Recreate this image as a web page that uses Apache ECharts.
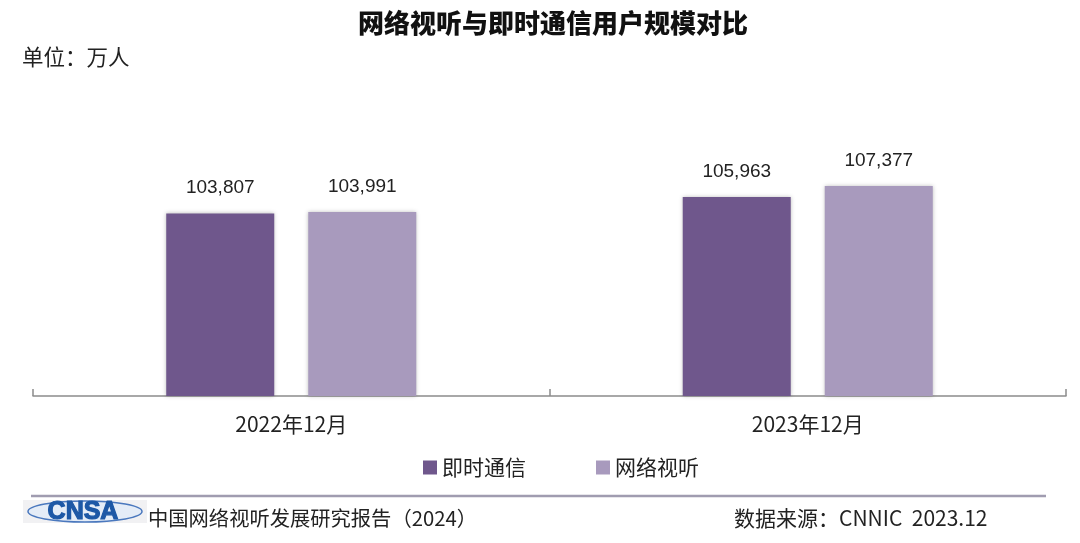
<!DOCTYPE html>
<html>
<head>
<meta charset="utf-8">
<script src="https://cdn.jsdelivr.net/npm/echarts@6/dist/echarts.min.js"></script>
<style>html,body{margin:0;padding:0;background:#fff;}#c{width:1080px;height:543px;}</style>
</head>
<body>
<div id="c"></div>
<script>
const categories = ['2022年12月', '2023年12月'];
const seriesNames = ['即时通信', '网络视听'];
const imValues = [103807, 105963];
const avValues = [103991, 107377];
const titleText = '网络视听与即时通信用户规模对比';
const unitText = '单位：万人';
const footerLeft = '中国网络视听发展研究报告（2024）';
const footerRight = '数据来源：CNNIC  2023.12';

const cjk = '"Noto Sans CJK SC", "Noto Sans", sans-serif';
const latin = '"Liberation Sans", Arial, sans-serif';
const chart = echarts.init(document.getElementById('c'), null, {renderer: 'canvas'});
const fmt = p => p.value.toLocaleString('en-US');
const labelStyle = {show: true, position: 'top', distance: 16, fontSize: 19, color: '#222', fontFamily: latin, formatter: fmt};
const shadow = {shadowBlur: 4, shadowColor: 'rgba(0,0,0,0.25)', shadowOffsetX: 0, shadowOffsetY: 0};

chart.setOption({
  animation: false,
  backgroundColor: '#fff',
  grid: {left: 33, right: 14, top: 166, bottom: 147, containLabel: false},
  legend: {
    data: seriesNames, left: 418, top: 452, itemWidth: 14, itemHeight: 14, itemGap: 70,
    icon: 'rect', textStyle: {fontSize: 21, color: '#222', fontFamily: cjk}
  },
  xAxis: {
    type: 'category', data: categories,
    axisLine: {lineStyle: {color: '#8c8c8c', width: 1.5}},
    axisTick: {show: true, inside: true, length: 7, lineStyle: {color: '#8c8c8c', width: 1.5}},
    axisLabel: {fontSize: 21, color: '#222', margin: 18, fontFamily: cjk}
  },
  yAxis: {type: 'value', min: 80000, max: 110000, show: false, splitLine: {show: false}},
  series: [
    {name: seriesNames[0], type: 'bar', data: imValues, barWidth: 108, barGap: '31.5%',
     itemStyle: Object.assign({color: '#6f578c'}, shadow), label: labelStyle},
    {name: seriesNames[1], type: 'bar', data: avValues, barWidth: 108,
     itemStyle: Object.assign({color: '#a89abd'}, shadow), label: labelStyle}
  ],
  graphic: [
    {type: 'text', x: 553, y: 23, style: {text: titleText, textAlign: 'center', textVerticalAlign: 'middle',
      font: '900 26px ' + cjk, fill: '#111'}},
    {type: 'text', x: 22, y: 57, style: {text: unitText, textAlign: 'left', textVerticalAlign: 'middle',
      font: '21.5px ' + cjk, fill: '#222'}},
    {type: 'line', shape: {x1: 31, y1: 496, x2: 1046, y2: 496}, style: {stroke: '#a09cb0', lineWidth: 2.5}},
    {type: 'rect', shape: {x: 23, y: 500, width: 124, height: 23}, style: {fill: '#f1f1f3'}},
    {type: 'ellipse', shape: {cx: 85, cy: 511.5, rx: 57, ry: 10.5}, style: {fill: '#e4ecf7', stroke: '#4a78be', lineWidth: 1.5}},
    {type: 'text', x: 83, y: 512, style: {text: 'CNSA', textAlign: 'center', textVerticalAlign: 'middle',
      font: 'bold 25px ' + latin, fill: '#1d58a6', stroke: '#1d58a6', lineWidth: 1.2}},
    {type: 'text', x: 148, y: 518, style: {text: footerLeft, textAlign: 'left', textVerticalAlign: 'middle',
      font: '20.3px ' + cjk, fill: '#222'}},
    {type: 'text', x: 734, y: 518, style: {text: footerRight, textAlign: 'left', textVerticalAlign: 'middle',
      font: '21px ' + cjk, fill: '#222'}}
  ]
});
</script>
</body>
</html>
